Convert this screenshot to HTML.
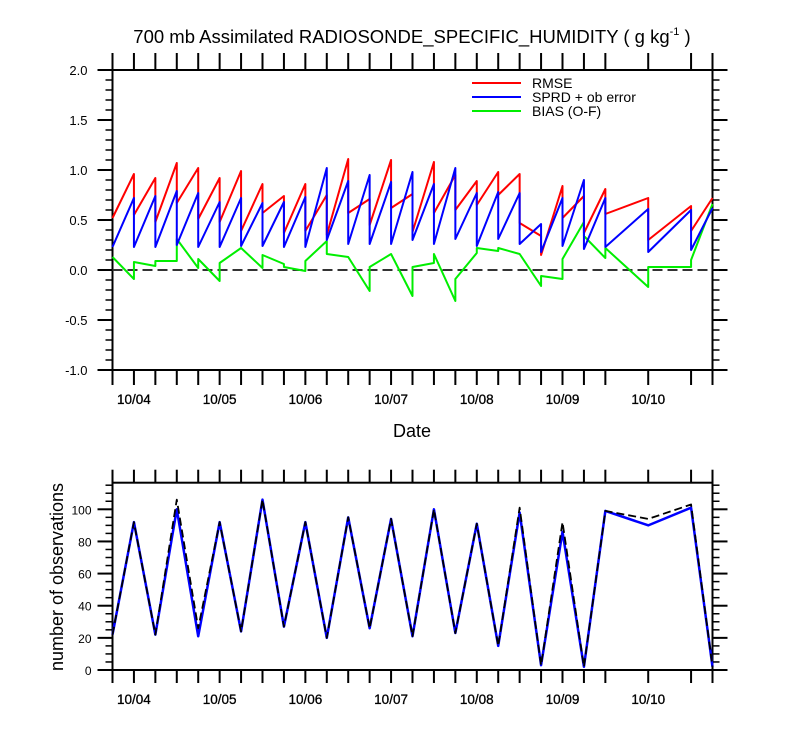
<!DOCTYPE html>
<html><head><meta charset="utf-8">
<style>
html,body{margin:0;padding:0;background:#fff;}
svg{display:block;font-family:"Liberation Sans",sans-serif;}
</style></head>
<body>
<svg id="chart" width="800" height="750" viewBox="0 0 800 750"></svg>
<script>
// ---- data (time index in 6h steps from 10/03 18Z) ----
const times = [0,1,2,3,4,5,6,7,8,9,10,11,12,13,14,15,16,17,18,19,20,21,22,23,25,27,28];
const dayLabels = ["10/04","10/05","10/06","10/07","10/08","10/09","10/10"];
const dayIdx = [1,5,9,13,17,21,25];
const rmsePrior = [null,0.96,0.92,1.07,1.02,0.92,0.99,0.86,0.74,0.86,0.75,1.11,0.71,1.10,0.76,1.08,0.95,0.89,0.98,0.96,0.34,0.84,0.74,0.81,0.72,0.64,0.72];
const rmsePost  = [0.52,0.55,0.48,0.67,0.51,0.48,0.39,0.57,0.37,0.39,0.35,0.57,0.45,0.62,0.38,0.57,0.60,0.65,0.75,0.47,0.15,0.52,0.37,0.56,0.30,0.39,0.72];
const sprdPrior = [null,0.72,0.74,0.79,0.77,0.68,0.72,0.67,0.68,0.73,1.02,0.89,0.95,0.88,0.98,0.86,1.02,0.77,0.78,0.77,0.46,0.72,0.90,0.72,0.61,0.60,0.62];
const sprdPost  = [0.23,0.23,0.23,0.25,0.23,0.23,0.24,0.24,0.23,0.23,0.30,0.26,0.26,0.26,0.30,0.26,0.31,0.24,0.31,0.26,0.18,0.24,0.21,0.23,0.18,0.20,0.62];
const biasPrior = [null,-0.09,0.04,0.09,0.02,-0.11,0.22,0.02,0.06,-0.01,0.29,0.13,-0.21,0.16,-0.26,0.07,-0.31,0.17,0.19,0.16,-0.16,-0.09,0.48,0.12,-0.17,0.03,0.66];
const biasPost  = [0.13,0.08,0.09,0.31,0.11,0.07,0.22,0.15,0.03,0.09,0.16,0.13,0.03,0.16,0.03,0.16,-0.09,0.22,0.22,0.16,-0.06,0.11,0.34,0.22,0.03,0.10,0.66];
const obsUsed     = [22,92,22,100,21,92,24,106,27,92,20,95,26,94,21,100,23,91,15,98,3,86,2,99,90,101,2];
const obsPossible = [22,92,22,106,26,92,24,106,27,92,20,95,26,94,21,100,23,91,15,101,3,92,2,99,94,103,2];
const yTicksTop = [-1.0,-0.5,0.0,0.5,1.0,1.5,2.0];
const yTicksBot = [0,20,40,60,80,100];

const svg = document.getElementById('chart');
const NS = 'http://www.w3.org/2000/svg';
function el(tag, attrs, parent){
  const e = document.createElementNS(NS, tag);
  for (const k in attrs) e.setAttribute(k, attrs[k]);
  (parent||svg).appendChild(e); return e;
}
const X0 = 112.5, X1 = 712.5, NT = 28;
const xS = t => X0 + (X1 - X0) * t / NT;
const yTop = v => 370 - (v + 1.0) * 100;
const yBot = v => 670 - v * (670 - 509.3) / 100;

const title = el('text',{x:412,y:43,'text-anchor':'middle','font-size':18.5,fill:'#000'});


title.innerHTML = '700 mb Assimilated RADIOSONDE_SPECIFIC_HUMIDITY ( g kg<tspan dy="-8" font-size="11">-1</tspan><tspan dy="8"> )</tspan>';

function frame(top, bot, yTicks, yMap, minorStep, minMin, minMax, fmt, name, tickTop, tickBot, lblOff, lblSize){
  const g = el('g',{});
  
  
  el('rect',{x:X0,y:top,width:X1-X0,height:bot-top,fill:'none',stroke:'#000','stroke-width':2},g);
  times.forEach(t=>{
    const x = xS(t);
    el('line',{x1:x,x2:x,y1:top,y2:top-tickTop,stroke:'#000','stroke-width':2},g);
    el('line',{x1:x,x2:x,y1:bot,y2:bot+tickBot,stroke:'#000','stroke-width':2},g);
  });
  dayIdx.forEach((t,i)=>{
    const tx = el('text',{x:xS(t),y:bot+34,'text-anchor':'middle','font-size':13.5,fill:'#000','stroke':'#000','stroke-width':0.3},g);
    
    
    tx.textContent = dayLabels[i];
  });
  for (let v = minMin; v <= minMax + 1e-6; v += minorStep){
    const y = yMap(v);
    el('line',{x1:X0,x2:X0-7,y1:y,y2:y,stroke:'#000','stroke-width':1.5},g);
    el('line',{x1:X1,x2:X1+7,y1:y,y2:y,stroke:'#000','stroke-width':1.5},g);
  }
  yTicks.forEach(v=>{
    const y = yMap(v);
    el('line',{x1:X0,x2:X0-15,y1:y,y2:y,stroke:'#000','stroke-width':2},g);
    el('line',{x1:X1,x2:X1+15,y1:y,y2:y,stroke:'#000','stroke-width':2},g);
    const tx = el('text',{x:X0-lblOff,y:y+5,'text-anchor':'end','font-size':lblSize,fill:'#000'},g);
    
    
    tx.textContent = fmt(v);
  });
}
frame(70,370,yTicksTop,yTop,0.1,-1.0,2.0,v=>v.toFixed(1),'top-axes',17,15,25,13);
frame(482.7,670,yTicksBot,yBot,5,0,115,v=>String(v),'bottom-axes',13,13,21,12);

const z = el('line',{x1:X0,x2:X1,y1:yTop(0),y2:yTop(0),stroke:'#333','stroke-width':2,'stroke-dasharray':'10,5'});



function sawPath(prior, post){
  let d = '';
  times.forEach((t,i)=>{
    const x = xS(t);
    if (prior[i] !== null) d += (d ? 'L' : 'M') + x + ',' + yTop(prior[i]);
    d += (d ? 'L' : 'M') + x + ',' + yTop(post[i]);
  });
  return d;
}
const pG = el('path',{d:sawPath(biasPrior,biasPost),fill:'none',stroke:'#00ee00','stroke-width':2,'stroke-linejoin':'round'});


const pR = el('path',{d:sawPath(rmsePrior,rmsePost),fill:'none',stroke:'#ff0000','stroke-width':2,'stroke-linejoin':'round'});


const pB = el('path',{d:sawPath(sprdPrior,sprdPost),fill:'none',stroke:'#0000ff','stroke-width':2,'stroke-linejoin':'round'});



const legItems = [['RMSE','#ff0000'],['SPRD + ob error','#0000ff'],['BIAS (O-F)','#00ee00']];
legItems.forEach((it,i)=>{
  const y = 83 + i*14;
  const g = el('g',{});
  
  
  el('line',{x1:472,x2:521,y1:y,y2:y,stroke:it[1],'stroke-width':2},g);
  const t = el('text',{x:532,y:y+5,'font-size':14,fill:'#000'},g);
  t.textContent = it[0];
});

const xt = el('text',{x:412,y:437,'text-anchor':'middle','font-size':18,fill:'#000'});


xt.textContent = 'Date';

function linePath(vals){
  return times.map((t,i)=>(i?'L':'M')+xS(t)+','+yBot(vals[i])).join('');
}
const ob = el('path',{d:linePath(obsUsed),fill:'none',stroke:'#0000ff','stroke-width':2.5,'stroke-linejoin':'round'});


const op = el('path',{d:linePath(obsPossible),fill:'none',stroke:'#000','stroke-width':1.8,'stroke-dasharray':'8,4','stroke-linejoin':'round'});



const yt = el('text',{x:0,y:0,'text-anchor':'middle','font-size':18,fill:'#000',transform:'translate(63,577) rotate(-90)'});


yt.textContent = 'number of observations';
</script>
</body></html>
